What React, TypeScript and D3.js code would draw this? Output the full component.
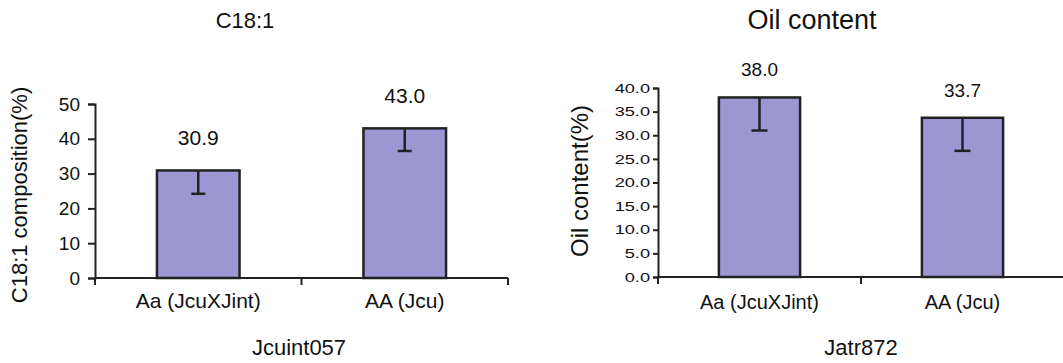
import React, { useEffect, useRef } from "react";
import * as d3 from "d3";

// data
const categories = ["Aa (JcuXJint)", "AA (Jcu)"];

const c18Values = [30.9, 43.0];
const c18Lower = [24.2, 36.5];
const c18Ticks = [0, 10, 20, 30, 40, 50];

const oilValues = [38.0, 33.7];
const oilLower = [31.0, 26.7];
const oilTicks = [0, 5, 10, 15, 20, 25, 30, 35, 40];

const FONT = "'Liberation Sans', Arial, Helvetica, sans-serif";
const BAR_FILL = "#9c96d2";
const INK = "#222";

function drawPanel(svg, cfg) {
  const g = svg.append("g");
  const x = d3
    .scaleBand()
    .domain(categories)
    .range([cfg.x0, cfg.x1])
    .paddingInner(0)
    .paddingOuter(0);
  const y = d3.scaleLinear().domain([0, cfg.yMax]).range([cfg.y0, cfg.yTop]);

  // y axis
  const yAxis = g
    .append("g")
    .attr("transform", `translate(${cfg.x0},0)`)
    .call(
      d3
        .axisLeft(y)
        .tickValues(cfg.ticks)
        .tickSize(cfg.tickLen)
        .tickPadding(cfg.tickPad)
        .tickFormat(d3.format(cfg.fmt))
    );
  yAxis.select(".domain").attr("stroke", INK).attr("stroke-width", 2);
  yAxis.selectAll(".tick line").attr("stroke", INK).attr("stroke-width", 2);
  yAxis
    .selectAll(".tick text")
    .attr("fill", "#111")
    .style("font-family", FONT)
    .style("font-size", cfg.tickFont + "px");
  if (cfg.tickStretch) {
    yAxis.selectAll(".tick text").each(function () {
      const t = d3.select(this);
      const xx = +t.attr("x");
      t.attr("x", xx / cfg.tickStretch).attr("transform", `scale(${cfg.tickStretch},1)`);
    });
  }

  // x axis line + ticks at band boundaries
  g.append("line")
    .attr("x1", cfg.x0)
    .attr("x2", cfg.x1)
    .attr("y1", cfg.y0)
    .attr("y2", cfg.y0)
    .attr("stroke", INK)
    .attr("stroke-width", 2);
  const bounds = [cfg.x0, ...categories.map((c) => x(c) + x.bandwidth())];
  g.selectAll(".xtick")
    .data(bounds)
    .join("line")
    .attr("x1", (d) => d)
    .attr("x2", (d) => d)
    .attr("y1", cfg.y0)
    .attr("y2", cfg.y0 + 7)
    .attr("stroke", INK)
    .attr("stroke-width", 2);

  const bw = x.bandwidth() * 0.4;
  const cx = (c) => x(c) + x.bandwidth() / 2;

  g.selectAll(".bar")
    .data(categories)
    .join("rect")
    .attr("x", (c) => cx(c) - bw / 2)
    .attr("y", (c, i) => y(cfg.values[i]))
    .attr("width", bw)
    .attr("height", (c, i) => y(0) - y(cfg.values[i]))
    .attr("fill", BAR_FILL)
    .attr("stroke", INK)
    .attr("stroke-width", 2.5);

  // error bars (downward only)
  g.selectAll(".err")
    .data(categories)
    .join("line")
    .attr("x1", cx)
    .attr("x2", cx)
    .attr("y1", (c, i) => y(cfg.values[i]))
    .attr("y2", (c, i) => y(cfg.lower[i]))
    .attr("stroke", INK)
    .attr("stroke-width", 2.5);
  g.selectAll(".cap")
    .data(categories)
    .join("line")
    .attr("x1", (c) => cx(c) - cfg.cap / 2)
    .attr("x2", (c) => cx(c) + cfg.cap / 2)
    .attr("y1", (c, i) => y(cfg.lower[i]))
    .attr("y2", (c, i) => y(cfg.lower[i]))
    .attr("stroke", INK)
    .attr("stroke-width", 2.5);

  // value labels
  g.selectAll(".val")
    .data(categories)
    .join("text")
    .attr("x", cx)
    .attr("y", (c, i) => y(cfg.values[i]) - cfg.labelGap)
    .attr("text-anchor", "middle")
    .style("font-family", FONT)
    .style("font-size", cfg.valFont + "px")
    .attr("fill", "#111")
    .text((c, i) => cfg.values[i].toFixed(1));

  // category labels
  g.selectAll(".cat")
    .data(categories)
    .join("text")
    .attr("x", cx)
    .attr("y", cfg.catY)
    .attr("text-anchor", "middle")
    .style("font-family", FONT)
    .style("font-size", cfg.catFont + "px")
    .attr("fill", "#111")
    .text((c) => c);

  // title
  g.append("text")
    .attr("x", cfg.titleX)
    .attr("y", cfg.titleY)
    .attr("text-anchor", "middle")
    .style("font-family", FONT)
    .style("font-size", cfg.titleFont + "px")
    .attr("fill", "#111")
    .text(cfg.title);

  // x axis title
  g.append("text")
    .attr("x", cfg.xTitleX)
    .attr("y", 355)
    .attr("text-anchor", "middle")
    .style("font-family", FONT)
    .style("font-size", "22px")
    .attr("fill", "#111")
    .text(cfg.xTitle);

  // y axis title
  g.append("text")
    .attr("transform", `translate(${cfg.yTitleX},${cfg.yTitleY}) rotate(-90)`)
    .attr("text-anchor", "middle")
    .style("font-family", FONT)
    .style("font-size", cfg.yTitleFont + "px")
    .attr("fill", "#111")
    .text(cfg.yTitle);
}

export default function App() {
  const ref = useRef(null);

  useEffect(() => {
    const svg = d3.select(ref.current);
    svg.selectAll("*").remove();

    drawPanel(svg, {
      values: c18Values,
      lower: c18Lower,
      ticks: c18Ticks,
      yMax: 50,
      fmt: "d",
      x0: 95,
      x1: 508,
      y0: 278,
      yTop: 104,
      tickLen: 7,
      tickPad: 8,
      tickFont: 19,
      cap: 14,
      labelGap: 25,
      valFont: 21,
      catY: 308,
      catFont: 21,
      title: "C18:1",
      titleX: 245,
      titleY: 28,
      titleFont: 22,
      xTitle: "Jcuint057",
      xTitleX: 299,
      yTitle: "C18:1 composition(%)",
      yTitleX: 27,
      yTitleY: 195,
      yTitleFont: 22,
    });

    drawPanel(svg, {
      values: oilValues,
      lower: oilLower,
      ticks: oilTicks,
      yMax: 40,
      fmt: ".1f",
      x0: 658,
      x1: 1064,
      y0: 277,
      yTop: 88,
      tickLen: 5,
      tickPad: 3,
      tickFont: 13,
      tickStretch: 1.4,
      cap: 16,
      labelGap: 21,
      valFont: 19,
      catY: 309,
      catFont: 20,
      title: "Oil content",
      titleX: 812,
      titleY: 29,
      titleFont: 27,
      xTitle: "Jatr872",
      xTitleX: 861,
      yTitle: "Oil content(%)",
      yTitleX: 588,
      yTitleY: 181,
      yTitleFont: 24,
    });
  }, []);

  return (
    <svg
      ref={ref}
      width={1063}
      height={363}
      style={{ position: "absolute", left: 0, top: 0, background: "#fff" }}
    />
  );
}
